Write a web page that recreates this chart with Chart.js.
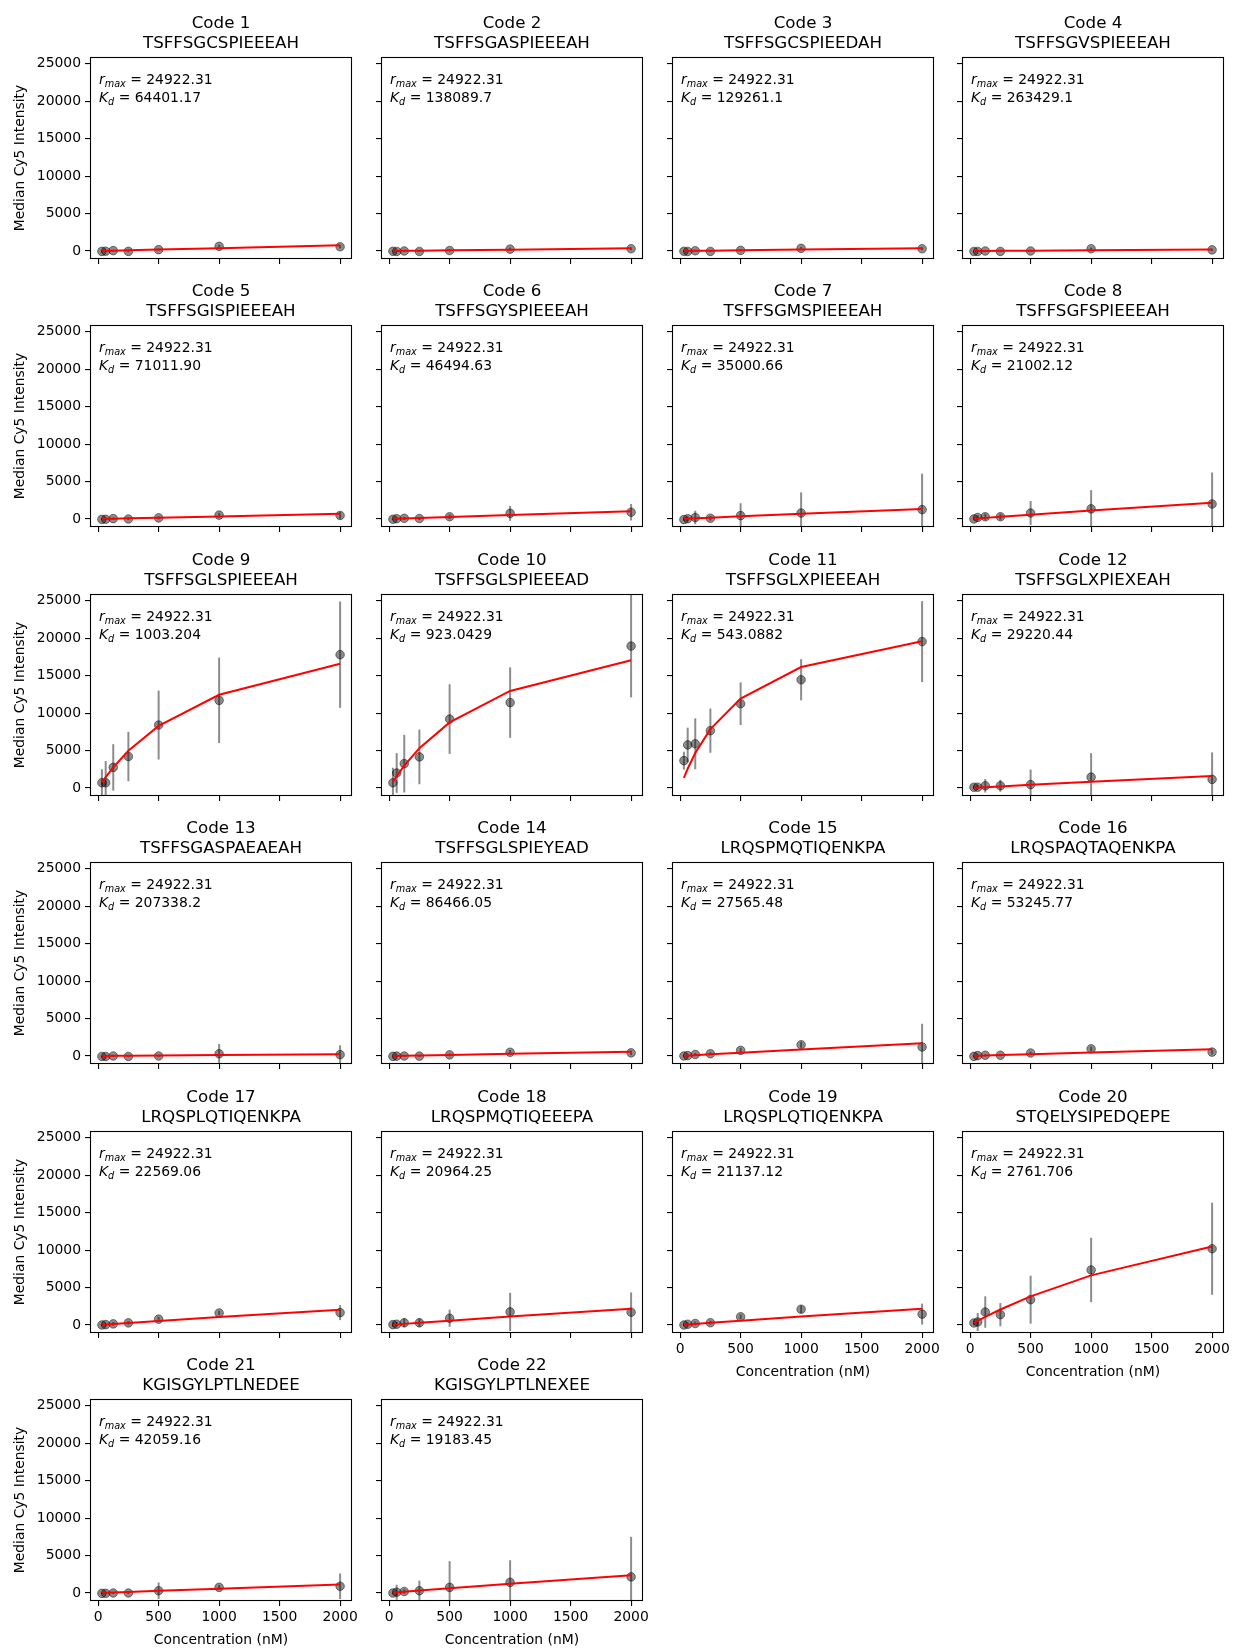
<!DOCTYPE html>
<html>
<head>
<meta charset="utf-8">
<title>Binding curves</title>
<script src="https://cdn.jsdelivr.net/npm/chart.js@4.4.0/dist/chart.umd.min.js"></script>
<style>
  html, body { margin: 0; padding: 0; background: #fff; overflow: hidden; }
  #figure { position: relative; width: 1236px; height: 1649px; }
  #figure canvas { position: absolute; }
</style>
</head>
<body>
<div id="figure"></div>
<script>
// concentrations (nM) used for every peptide
const concentrations = [31.25, 62.5, 125, 250, 500, 1000, 2000];

const codeNames = ["Code 1","Code 2","Code 3","Code 4","Code 5","Code 6","Code 7","Code 8",
  "Code 9","Code 10","Code 11","Code 12","Code 13","Code 14","Code 15","Code 16",
  "Code 17","Code 18","Code 19","Code 20","Code 21","Code 22"];

const sequences = ["TSFFSGCSPIEEEAH","TSFFSGASPIEEEAH","TSFFSGCSPIEEDAH","TSFFSGVSPIEEEAH",
  "TSFFSGISPIEEEAH","TSFFSGYSPIEEEAH","TSFFSGMSPIEEEAH","TSFFSGFSPIEEEAH",
  "TSFFSGLSPIEEEAH","TSFFSGLSPIEEEAD","TSFFSGLXPIEEEAH","TSFFSGLXPIEXEAH",
  "TSFFSGASPAEAEAH","TSFFSGLSPIEYEAD","LRQSPMQTIQENKPA","LRQSPAQTAQENKPA",
  "LRQSPLQTIQENKPA","LRQSPMQTIQEEEPA","LRQSPLQTIQENKPA","STQELYSIPEDQEPE",
  "KGISGYLPTLNEDEE","KGISGYLPTLNEXEE"];

const rmaxText = "24922.31";
const kdText = ["64401.17","138089.7","129261.1","263429.1","71011.90","46494.63","35000.66","21002.12",
  "1003.204","923.0429","543.0882","29220.44","207338.2","86466.05","27565.48","53245.77",
  "22569.06","20964.25","21137.12","2761.706","42059.16","19183.45"];

// median Cy5 intensity at each concentration, one row per code
const medianValues = [
  [-50, -30, 50, -50, 180, 620, 560],
  [-40, -60, 0, -60, 60, 250, 300],
  [-40, -60, 30, -60, 80, 350, 300],
  [-60, -60, 0, -60, 0, 300, 150],
  [-50, -40, 50, 0, 150, 520, 470],
  [-40, 40, 90, 60, 300, 750, 900],
  [-80, 40, 200, 100, 450, 800, 1250],
  [0, 200, 300, 300, 800, 1350, 2000],
  [700, 700, 2750, 4200, 8400, 11700, 17800],
  [700, 2000, 3250, 4150, 9200, 11400, 18950],
  [3650, 5750, 5900, 7650, 11250, 14450, 19550],
  [100, 100, 300, 300, 450, 1450, 1150],
  [-60, -60, 0, -60, 0, 300, 180],
  [-50, -20, 0, -20, 150, 500, 420],
  [0, 50, 200, 300, 750, 1500, 1200],
  [-50, 50, 100, 100, 400, 950, 520],
  [0, 50, 150, 280, 780, 1600, 1650],
  [50, 100, 300, 300, 900, 1750, 1700],
  [0, 100, 200, 300, 1100, 2100, 1450],
  [270, 400, 1730, 1380, 3380, 7350, 10180],
  [-50, -40, 0, 0, 300, 750, 900],
  [0, 100, 200, 300, 750, 1420, 2150]
];

// error bar half length
const errorValues = [
  [100, 100, 100, 100, 150, 200, 200],
  [80, 80, 80, 80, 120, 200, 200],
  [80, 80, 80, 80, 120, 200, 200],
  [80, 80, 80, 80, 100, 150, 150],
  [100, 100, 150, 150, 200, 300, 500],
  [100, 150, 200, 200, 300, 1000, 1100],
  [150, 300, 900, 300, 1650, 2750, 4800],
  [200, 300, 400, 400, 1600, 2500, 4200],
  [1800, 2900, 3100, 3300, 4600, 5700, 7100],
  [2000, 2650, 3850, 3650, 4650, 4700, 6850],
  [1200, 2300, 3400, 2950, 2850, 2750, 5400],
  [200, 300, 900, 800, 2000, 3200, 3600],
  [100, 100, 100, 100, 150, 1300, 1250],
  [100, 100, 100, 100, 200, 300, 300],
  [150, 150, 200, 200, 300, 400, 3100],
  [100, 150, 150, 150, 200, 300, 300],
  [150, 200, 250, 250, 300, 300, 1000],
  [300, 300, 600, 600, 1150, 2550, 2650],
  [150, 200, 250, 250, 300, 500, 1400],
  [300, 1200, 2100, 1550, 3200, 4300, 6150],
  [100, 100, 150, 150, 1100, 300, 1700],
  [200, 1000, 300, 1350, 3500, 2950, 5350]
];

// fitted curve, read at the same concentrations
const fitValues = [
  [12, 24, 48, 96, 192, 381, 751],
  [6, 11, 23, 45, 90, 179, 356],
  [6, 12, 24, 48, 96, 191, 380],
  [3, 6, 12, 24, 47, 94, 188],
  [11, 22, 44, 87, 174, 346, 683],
  [17, 33, 67, 133, 265, 525, 1028],
  [22, 44, 89, 177, 351, 692, 1347],
  [37, 74, 148, 293, 580, 1133, 2167],
  [753, 1462, 2761, 4972, 8290, 12441, 16597],
  [816, 1581, 2973, 5312, 8757, 12960, 17052],
  [1356, 2572, 4663, 7856, 11946, 16151, 19600],
  [27, 53, 106, 211, 419, 825, 1597],
  [4, 8, 15, 30, 60, 120, 238],
  [9, 18, 36, 72, 143, 285, 563],
  [28, 56, 113, 224, 444, 873, 1686],
  [15, 29, 58, 117, 232, 459, 902],
  [34, 69, 137, 273, 540, 1057, 2029],
  [37, 74, 148, 294, 581, 1135, 2171],
  [37, 73, 147, 291, 576, 1126, 2154],
  [279, 552, 1079, 2069, 3820, 6625, 10468],
  [19, 37, 74, 147, 293, 579, 1131],
  [41, 81, 161, 321, 633, 1235, 2353]
];

const xTickValues = [0, 500, 1000, 1500, 2000];
const yTickValues = [0, 5000, 10000, 15000, 20000, 25000];

// layout of the grid (px)
const colLeft = [90, 381, 672, 962];
const rowTop = [57, 325, 594, 862, 1131, 1399];
const plotW = 262, plotH = 202;
const padLeft = 90, padTop = 57, padRight = 30, padBottom = 48;

const FONT = "'DejaVu Sans', sans-serif";
Chart.defaults.color = "#000";
Chart.defaults.font.family = FONT;

const panelDecor = {
  id: "panelDecor",
  beforeDatasetsDraw(chart) {
    // error bars
    const p = chart.options.plugins.panelDecor.index;
    const ctx = chart.ctx;
    const xs = chart.scales.x, ys = chart.scales.y;
    const area = chart.chartArea;
    ctx.save();
    ctx.beginPath();
    ctx.rect(area.left, area.top, area.right - area.left, area.bottom - area.top);
    ctx.clip();
    ctx.strokeStyle = "rgba(0,0,0,0.45)";
    ctx.lineWidth = 2;
    for (let i = 0; i < concentrations.length; i++) {
      let px = xs.getPixelForValue(concentrations[i]);
      let y1 = ys.getPixelForValue(medianValues[p][i] - errorValues[p][i]);
      let y2 = ys.getPixelForValue(medianValues[p][i] + errorValues[p][i]);
      ctx.beginPath();
      ctx.moveTo(px, y1);
      ctx.lineTo(px, y2);
      ctx.stroke();
    }
    ctx.restore();
  },
  afterDatasetsDraw(chart) {
    const ctx = chart.ctx;
    const area = chart.chartArea;
    ctx.save();
    ctx.strokeStyle = "#000";
    ctx.lineWidth = 1.1;
    ctx.strokeRect(Math.round(area.left) + 0.5, Math.round(area.top) + 0.5,
      Math.round(area.right - area.left) - 1, Math.round(area.bottom - area.top) - 1);
    ctx.restore();
  },
  afterDraw(chart) {
    const p = chart.options.plugins.panelDecor.index;
    const ctx = chart.ctx;
    const area = chart.chartArea;
    const cx = (area.left + area.right) / 2;
    ctx.save();
    ctx.fillStyle = "#000";
    ctx.textAlign = "center";
    ctx.textBaseline = "alphabetic";
    ctx.font = "16.7px " + FONT;
    ctx.fillText(codeNames[p], cx, area.top - 29.5);
    ctx.fillText(sequences[p], cx, area.top - 9);

    ctx.textAlign = "left";
    drawParam(ctx, area.left + 9, area.top + 26.5, "r", "max", rmaxText);
    drawParam(ctx, area.left + 9, area.top + 45, "K", "d", kdText[p]);
    ctx.restore();
  }
};

function drawParam(ctx, x, y, sym, sub, value)
{
  ctx.font = "italic 13.9px " + FONT;
  ctx.fillText(sym, x, y);
  x += ctx.measureText(sym).width;
  ctx.font = "italic 9.7px " + FONT;
  ctx.fillText(sub, x, y + 3);
  x += ctx.measureText(sub).width;
  ctx.font = "13.9px " + FONT;
  ctx.fillText(" = " + value, x, y);
}

function makePanel(p)
{
  let row = Math.floor(p / 4), col = p % 4;
  let showX = p >= 18;
  let showY = col == 0;
  let canvas = document.createElement("canvas");
  let w = padLeft + plotW + padRight, h = padTop + plotH + padBottom;
  canvas.width = w;
  canvas.height = h;
  canvas.style.width = w + "px";
  canvas.style.height = h + "px";
  canvas.style.left = (colLeft[col] - padLeft) + "px";
  canvas.style.top = (rowTop[row] - padTop) + "px";
  document.getElementById("figure").appendChild(canvas);

  let points = concentrations.map((c, i) => ({x: c, y: medianValues[p][i]}));
  let fit = concentrations.map((c, i) => ({x: c, y: fitValues[p][i]}));
  let tickFont = {size: 13.9, family: FONT};

  new Chart(canvas, {
    type: "scatter",
    data: {
      datasets: [{
        type: "line",
        data: fit,
        borderColor: "#ff0000",
        borderWidth: 2,
        pointRadius: 0,
        tension: 0,
        order: 0
      }, {
        data: points,
        backgroundColor: "rgba(0,0,0,0.45)",
        borderColor: "rgba(0,0,0,0.45)",
        borderWidth: 1,
        pointRadius: 4.3,
        order: 1
      }]
    },
    options: {
      responsive: false,
      animation: false,
      devicePixelRatio: 1,
      layout: {padding: {top: padTop, right: padRight, left: 0, bottom: 0}},
      plugins: {
        legend: {display: false},
        tooltip: {enabled: false},
        panelDecor: {index: p}
      },
      scales: {
        x: {
          type: "linear",
          min: -67.2,
          max: 2098.4,
          afterBuildTicks: s => { s.ticks = xTickValues.map(v => ({value: v})); },
          afterFit: s => { s.height = padBottom; },
          border: {display: false},
          grid: {drawOnChartArea: false, drawTicks: true, tickLength: 5, color: "#000", lineWidth: 1.1},
          ticks: {
            font: tickFont, color: "#000", padding: 3, maxRotation: 0, autoSkip: false,
            callback: v => showX ? String(v) : ""
          },
          title: {display: showX, text: "Concentration (nM)", font: tickFont, color: "#000",
            padding: {top: 3.7, bottom: 0}}
        },
        y: {
          type: "linear",
          min: -1070,
          max: 25900,
          afterBuildTicks: s => { s.ticks = yTickValues.map(v => ({value: v})); },
          afterFit: s => { s.width = padLeft; },
          border: {display: false},
          grid: {drawOnChartArea: false, drawTicks: true, tickLength: 5, color: "#000", lineWidth: 1.1},
          ticks: {
            font: tickFont, color: "#000", padding: 4, autoSkip: false,
            callback: v => showY ? String(v) : ""
          },
          title: {display: showY, text: "Median Cy5 Intensity", font: tickFont, color: "#000",
            padding: {top: 11.6, bottom: 0}}
        }
      }
    },
    plugins: [panelDecor]
  });
}

for (let p = 0; p < codeNames.length; p++)
{
  makePanel(p);
}
</script>
</body>
</html>
